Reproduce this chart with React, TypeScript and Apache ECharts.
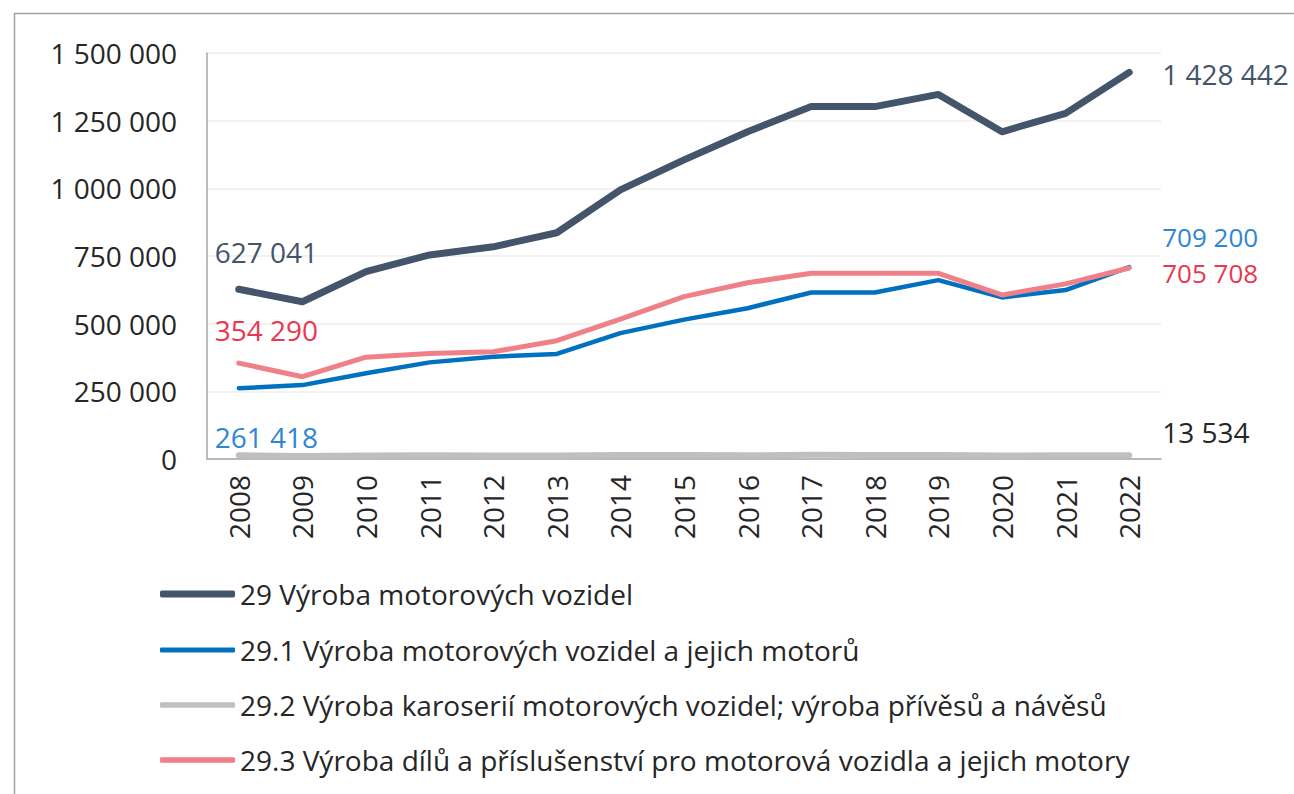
import React, { useEffect, useRef } from "react";
import * as echarts from "echarts";

const years = ["2008", "2009", "2010", "2011", "2012", "2013", "2014", "2015", "2016", "2017", "2018", "2019", "2020", "2021", "2022"];
const total = [627041, 581000, 692000, 754000, 784000, 836000, 994000, 1105000, 1209000, 1302000, 1302000, 1347000, 1209000, 1277000, 1428442];
const vehicles = [261418, 273000, 317000, 357000, 378000, 388000, 465000, 515000, 557000, 615000, 615000, 661000, 597000, 624000, 709200];
const bodies = [14000, 11000, 12500, 13500, 13000, 12500, 14500, 15000, 13500, 15500, 15000, 15200, 12500, 13500, 13534];
const parts = [354290, 304000, 376000, 390000, 396000, 437000, 517000, 600000, 651000, 686000, 686000, 686000, 606000, 647000, 705708];
const seriesNames = [
  "29 Výroba motorových vozidel",
  "29.1 Výroba motorových vozidel a jejich motorů",
  "29.2 Výroba karoserií motorových vozidel; výroba přívěsů a návěsů",
  "29.3 Výroba dílů a příslušenství pro motorová vozidla a jejich motory",
];
const yTicks = { min: 0, max: 1500000, interval: 250000 };

const FONT = "Open Sans";
const fmt = (v: number) => String(Math.round(v)).replace(/\B(?=(\d{3})+(?!\d))/g, " ");

export default function App() {
  const ref = useRef<HTMLDivElement>(null);
  useEffect(() => {
    document.body.style.margin = "0";
    const chart = echarts.init(ref.current!, undefined, { renderer: "svg" });
    const mk = (
      name: string,
      data: number[],
      color: string,
      width: number,
      labelColor: string,
      startOffset: number[] | null,
      endDy: number,
      endSize: number
    ) => ({
      name,
      type: "line",
      data,
      smooth: false,
      symbol: "none",
      lineStyle: { color, width, cap: "round", join: "round" },
      itemStyle: { color },
      z: 2,
      endLabel: {
        show: true,
        formatter: (p: any) => fmt(p.value),
        color: labelColor,
        fontFamily: FONT,
        fontSize: endSize,
        lineHeight: endSize,
        distance: 33,
        offset: [0, endDy],
        align: "left",
      },
      markPoint: startOffset
        ? {
            symbol: "circle",
            symbolSize: 0,
            silent: true,
            data: [
              {
                coord: [0, data[0]],
                value: data[0],
                label: {
                  show: true,
                  position: "inside",
                  formatter: (p: any) => fmt(p.value),
                  color: labelColor,
                  fontFamily: FONT,
                  fontSize: 28,
                  lineHeight: 28,
                  align: "left",
                  verticalAlign: "middle",
                  offset: startOffset,
                },
              },
            ],
          }
        : undefined,
    });
    const legendThick = [7, 5, 5.5, 5.5];
    const legendCenters = [594, 650, 705, 760];
    chart.setOption({
      animation: false,
      backgroundColor: "#ffffff",
      graphic: [
        {
          type: "rect",
          left: 12,
          top: 11,
          shape: { width: 1300, height: 800 },
          style: { fill: "none", stroke: "#a0a0a0", lineWidth: 1.5 },
          silent: true,
          z: -1,
        },
      ],
      grid: { left: 207, right: 133, top: 53, bottom: 335 },
      xAxis: {
        type: "category",
        data: years,
        boundaryGap: true,
        axisLine: { show: true, lineStyle: { color: "#a6a6a6", width: 1.5 } },
        axisTick: { show: false },
        axisLabel: {
          rotate: 90,
          margin: 16,
          fontFamily: FONT,
          fontSize: 28,
          color: "#262626",
        },
      },
      yAxis: {
        type: "value",
        min: yTicks.min,
        max: yTicks.max,
        interval: yTicks.interval,
        axisLine: { show: true, lineStyle: { color: "#a6a6a6", width: 1.5 } },
        axisTick: { show: false },
        splitLine: { lineStyle: { color: "#eeeeee", width: 1.5 } },
        axisLabel: {
          margin: 30,
          fontFamily: FONT,
          fontSize: 28,
          color: "#262626",
          formatter: (v: number) => fmt(v),
        },
      },
      legend: seriesNames.map((n, i) => ({
        orient: "vertical",
        left: 155,
        top: legendCenters[i] - 17 - 5,
        icon: "roundRect",
        itemWidth: 75,
        itemHeight: legendThick[i],
        data: [n],
        textStyle: { fontFamily: FONT, fontSize: 28, color: "#262626", lineHeight: 34 },
      })),
      series: [
        mk(seriesNames[2], bodies, "#bfbfbf", 6, "#262626", null, -23, 28),
        mk(seriesNames[1], vehicles, "#0070c0", 4.5, "#2f86d1", [-24, 49], -30, 26),
        mk(seriesNames[3], parts, "#f08088", 5, "#e8384f", [-24, -33], 5, 26),
        mk(seriesNames[0], total, "#44546a", 7, "#44546a", [-24, -37], 2, 28),
      ],
    });
    return () => chart.dispose();
  }, []);
  return <div ref={ref} style={{ width: 1294, height: 794 }} />;
}
